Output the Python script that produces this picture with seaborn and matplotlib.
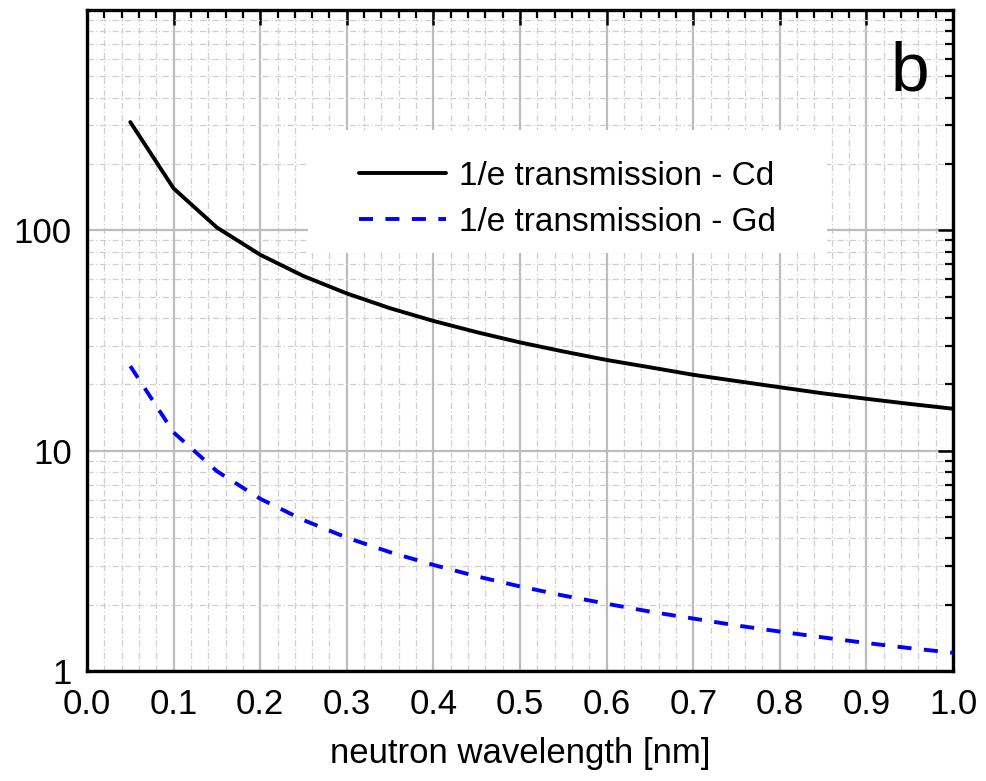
import numpy as np
import pandas as pd
import matplotlib
matplotlib.use("Agg")
import matplotlib.pyplot as plt
import seaborn as sns
from matplotlib.ticker import MultipleLocator, LogLocator, NullFormatter, FixedLocator, FixedFormatter
from matplotlib.patches import Rectangle

# data
wavelength = [0.05, 0.10, 0.15, 0.20, 0.25, 0.30, 0.35, 0.40, 0.45, 0.50,
              0.55, 0.60, 0.65, 0.70, 0.75, 0.80, 0.85, 0.90, 0.95, 1.00]
cd_values = [310, 155, 103, 77.5, 62, 51.7, 44.3, 38.8, 34.5, 31.0,
             28.2, 25.8, 23.9, 22.1, 20.7, 19.4, 18.2, 17.2, 16.3, 15.5]
gd_values = [24.2, 12.1, 8.07, 6.05, 4.84, 4.03, 3.46, 3.03, 2.69, 2.42,
             2.20, 2.02, 1.86, 1.73, 1.61, 1.51, 1.42, 1.34, 1.27, 1.21]
labels = ["1/e transmission - Cd", "1/e transmission - Gd"]
x_ticks = [0.0, 0.1, 0.2, 0.3, 0.4, 0.5, 0.6, 0.7, 0.8, 0.9, 1.0]
y_ticks = [1, 10, 100]
y_ticklabels = ["1", "10", "100"]

df_cd = pd.DataFrame({"wavelength": wavelength, "value": cd_values})
df_gd = pd.DataFrame({"wavelength": wavelength, "value": gd_values})

sns.set_theme(style="white")
plt.rcParams['font.family'] = ['Liberation Sans', 'DejaVu Sans']
plt.rcParams.update({"text.color": "black", "axes.labelcolor": "black",
                     "xtick.color": "black", "ytick.color": "black"})

fig = plt.figure(figsize=(9.86, 7.81), dpi=100)
ax = fig.add_axes([87/986, 1 - 671/781, 866/986, 661/781])

sns.lineplot(data=df_cd, x="wavelength", y="value", ax=ax, color="black",
             linewidth=2.8, label=labels[0], zorder=3)
sns.lineplot(data=df_gd, x="wavelength", y="value", ax=ax, color="#0000ff",
             linewidth=2.8, label=labels[1], zorder=3)
ax.lines[1].set_dashes((3.6, 3.2))

ax.set_yscale("log")
ax.set_xlim(0.0, 1.0)
ax.set_ylim(1, 1000)

ax.xaxis.set_major_locator(FixedLocator(x_ticks))
ax.set_xticklabels([f"{v:.1f}" for v in x_ticks])
ax.xaxis.set_minor_locator(MultipleLocator(0.02))
ax.yaxis.set_major_locator(FixedLocator(y_ticks + [1000]))
ax.yaxis.set_major_formatter(FixedFormatter(y_ticklabels + [""]))
ax.yaxis.set_minor_locator(LogLocator(base=10, subs=np.arange(2, 10)))
ax.yaxis.set_minor_formatter(NullFormatter())

ax.set_axisbelow(True)
ax.grid(which="major", color="#bcbcbc", linewidth=1.6, linestyle="-", zorder=0)
ax.grid(which="minor", color="#cfcfcf", linewidth=0.9, linestyle=(0, (5, 2, 1, 2)), zorder=0)

for s in ax.spines.values():
    s.set_color("black")
    s.set_linewidth(2.4)

ax.tick_params(which="major", direction="in", length=11, width=1.8, colors="black",
               top=True, right=True, labelsize=25)
ax.tick_params(axis="x", which="major", pad=12)
ax.tick_params(axis="y", which="major", pad=11)
ax.tick_params(which="minor", direction="in", length=6, width=1.6, colors="black",
               top=True, right=True)

ax.set_xlabel("neutron wavelength [nm]", fontsize=25, labelpad=12)
ax.set_ylabel("")

# white legend background
ax.add_patch(Rectangle((0.255, 0.6324), 0.5995, 0.1861, transform=ax.transAxes,
                       facecolor="white", edgecolor="none", zorder=1))
leg = ax.legend(loc="center", bbox_to_anchor=(0.555, 0.714), frameon=False,
                fontsize=24, handlelength=2.6, handletextpad=0.4, labelspacing=0.45)
for h in leg.get_lines():
    h.set_linewidth(2.8)

ax.text(0.950, 0.906, "b", transform=ax.transAxes, fontsize=50, ha="center", va="center",
        color="black")

fig.savefig("out.png", dpi=100)
